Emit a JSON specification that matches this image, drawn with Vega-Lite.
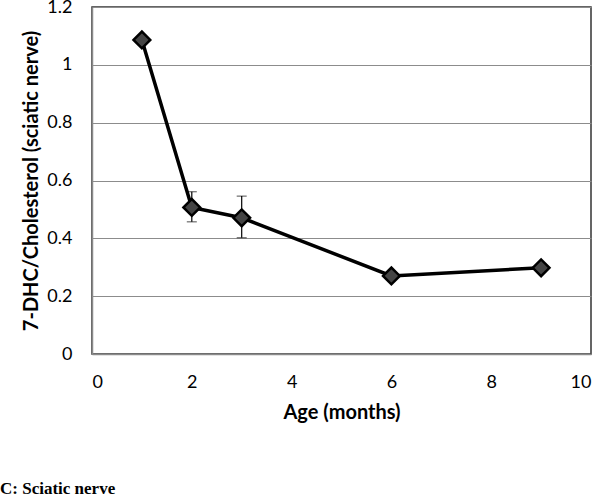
{
  "$schema": "https://vega.github.io/schema/vega-lite/v6.json",
  "width": 499,
  "height": 347,
  "autosize": {"type": "none"},
  "padding": {"left": 92, "top": 7, "right": 10, "bottom": 144},
  "background": "white",
  "title": {
    "text": "C: Sciatic nerve",
    "orient": "bottom",
    "anchor": "start",
    "frame": "group",
    "dx": -92,
    "offset": 59,
    "font": "Liberation Serif",
    "fontSize": 17,
    "fontWeight": "bold",
    "color": "black"
  },
  "config": {
    "view": {"stroke": "#333333", "strokeWidth": 1.5},
    "axis": {
      "labelFont": "Lato",
      "labelFontSize": 18,
      "labelColor": "black",
      "titleFont": "Lato",
      "titleFontSize": 20,
      "titleFontWeight": "bold",
      "titleColor": "black",
      "ticks": false,
      "domainColor": "#8a8a8a",
      "domainWidth": 1.5,
      "gridColor": "#8c8c8c",
      "gridWidth": 1
    }
  },
  "data": {
    "values": [
      {"age": 1, "ratio": 1.086, "lo": 1.086, "hi": 1.086},
      {"age": 2, "ratio": 0.507, "lo": 0.457, "hi": 0.561},
      {"age": 3, "ratio": 0.471, "lo": 0.402, "hi": 0.546},
      {"age": 6, "ratio": 0.27, "lo": 0.27, "hi": 0.27},
      {"age": 9, "ratio": 0.298, "lo": 0.298, "hi": 0.298}
    ]
  },
  "encoding": {
    "x": {
      "field": "age",
      "type": "quantitative",
      "scale": {"domain": [0, 10], "nice": false},
      "axis": {
        "title": "Age (months)",
        "values": [0, 2, 4, 6, 8, 10],
        "grid": false,
        "labelPadding": 19,
        "titlePadding": 11
      }
    },
    "y": {
      "field": "ratio",
      "type": "quantitative",
      "scale": {"domain": [0, 1.2], "nice": false},
      "axis": {
        "title": "7-DHC/Cholesterol (sciatic nerve)",
        "values": [0, 0.2, 0.4, 0.6, 0.8, 1, 1.2],
        "format": "~g",
        "labelPadding": 20,
        "titlePadding": 5
      }
    }
  },
  "layer": [
    {
      "mark": {"type": "errorbar", "ticks": {"size": 10, "color": "black", "strokeWidth": 1.2}, "rule": {"color": "black", "strokeWidth": 1.2}},
      "transform": [{"filter": "datum.hi > datum.lo"}],
      "encoding": {
        "y": {"field": "lo", "type": "quantitative", "title": "7-DHC/Cholesterol (sciatic nerve)"},
        "y2": {"field": "hi"}
      }
    },
    {
      "mark": {"type": "line", "color": "black", "strokeWidth": 3.5}
    },
    {
      "mark": {"type": "point", "shape": "diamond", "filled": true, "fill": "#444444", "stroke": "black", "strokeWidth": 2.5, "size": 280, "opacity": 1}
    }
  ]
}
